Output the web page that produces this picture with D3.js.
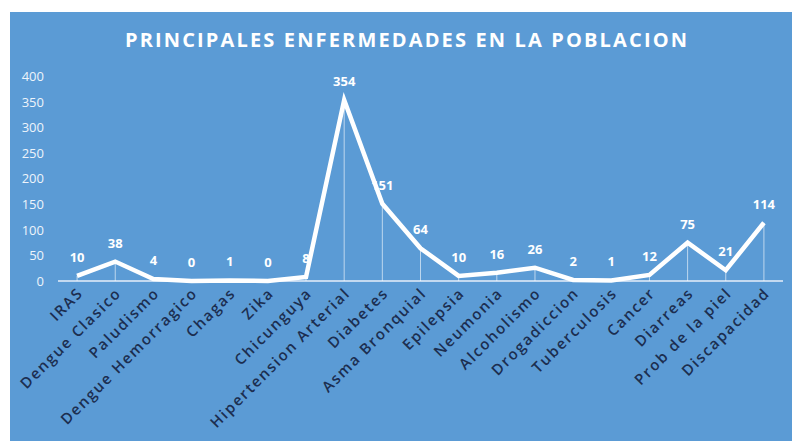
<!DOCTYPE html>
<html><head><meta charset="utf-8">
<script src="https://cdn.jsdelivr.net/npm/d3@7/dist/d3.min.js"></script>
<style>html,body{margin:0;padding:0;background:#fff;}svg{display:block;}</style>
</head><body>
<script>
const categories = ["IRAS","Dengue Clasico","Paludismo","Dengue Hemorragico","Chagas","Zika","Chicunguya","Hipertension Arterial","Diabetes","Asma Bronquial","Epilepsia","Neumonia","Alcoholismo","Drogadiccion","Tuberculosis","Cancer","Diarreas","Prob de la piel","Discapacidad"];
const values = [10,38,4,0,1,0,8,354,151,64,10,16,26,2,1,12,75,21,114];
const yTicks = [0,50,100,150,200,250,300,350,400];
const title = "PRINCIPALES ENFERMEDADES EN LA POBLACION";

const W = 792, H = 441;
const svg = d3.select("body").append("svg").attr("width", W).attr("height", H);
svg.append("rect").attr("x",10).attr("y",12).attr("width",W-10).attr("height",H-12).attr("fill","#5b9bd5");

svg.append("text").attr("x",406).attr("y",47).attr("text-anchor","middle")
  .attr("font-family","Open Sans").attr("font-weight",700).attr("font-size",20)
  .attr("textLength",562).attr("lengthAdjust","spacing")
  .attr("fill","#ffffff").text(title);

const x = d3.scalePoint().domain(categories).range([58,783]).padding(0.5);
const y = d3.scaleLinear().domain([0,400]).range([281,76.5]);

// y axis labels
const yAxis = d3.axisLeft(y).tickValues(yTicks).tickSize(0).tickPadding(0);
const yg = svg.append("g").attr("transform","translate(44,0)").call(yAxis);
yg.select(".domain").remove();
yg.selectAll("text").attr("font-family","Open Sans").attr("font-size",13).attr("fill","#eef4fb");

// x axis line
svg.append("line").attr("x1",58).attr("x2",783).attr("y1",y(0)).attr("y2",y(0))
  .attr("stroke","#e6eef8").attr("stroke-width",1.5);

// drop lines
svg.append("g").selectAll("line").data(values).join("line")
  .attr("x1",(d,i)=>x(categories[i])).attr("x2",(d,i)=>x(categories[i]))
  .attr("y1",d=>y(d)).attr("y2",y(0))
  .attr("stroke","#ffffff").attr("stroke-opacity",0.6).attr("stroke-width",1);

// data labels
svg.append("g").selectAll("text").data(values).join("text")
  .attr("x",(d,i)=>x(categories[i])).attr("y",d=>y(d)-14)
  .attr("text-anchor","middle").attr("font-family","Open Sans").attr("font-weight",700)
  .attr("font-size",13).attr("fill","#ffffff").text(d=>d);

// line
const line = d3.line().x((d,i)=>x(categories[i])).y(d=>y(d));
svg.append("path").datum(values).attr("d",line).attr("fill","none")
  .attr("stroke","#ffffff").attr("stroke-width",4.5).attr("stroke-linejoin","miter").attr("stroke-miterlimit",10);

// x labels
svg.append("g").selectAll("text").data(categories).join("text")
  .attr("transform",d=>`translate(${x(d)+7},${294}) rotate(-45)`)
  .attr("text-anchor","end").attr("font-family","Open Sans").attr("font-weight",600)
  .attr("font-size",15).attr("letter-spacing",1.8).attr("fill","#1c2e50").text(d=>d);
</script>
</body></html>
